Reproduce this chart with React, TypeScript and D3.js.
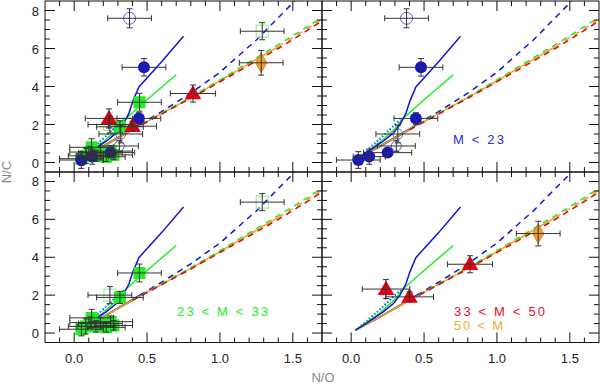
import React from "react";
import * as d3 from "d3";

// ---- data ----
// points: [N/O, N/C, errN/O, errN/C]
const massBelow23 = [
  [0.049, 0.13, 0.15, 0.44],
  [0.124, 0.31, 0.11, 0.4],
  [0.25, 0.52, 0.165, 0.22],
  [0.444, 2.32, 0.15, 0.3],
  [0.479, 5.01, 0.15, 0.46],
];
const massBelow23Open = [
  [0.38, 7.59, 0.15, 0.5],
  [0.32, 1.5, 0.15, 0.47],
  [0.31, 0.87, 0.13, 0.3],
];
const mass23to33 = [
  [0.05, 0.2, 0.15, 0.35],
  [0.08, 0.35, 0.12, 0.4],
  [0.11, 0.55, 0.14, 0.3],
  [0.12, 0.8, 0.15, 0.45],
  [0.15, 0.35, 0.13, 0.3],
  [0.18, 0.5, 0.15, 0.3],
  [0.22, 0.3, 0.13, 0.25],
  [0.25, 0.6, 0.15, 0.3],
  [0.27, 0.4, 0.13, 0.25],
  [0.314, 1.88, 0.16, 0.32],
  [0.448, 3.17, 0.15, 0.47],
];
const mass23to33Open = [
  [0.245, 2.0, 0.15, 0.45],
  [1.29, 6.91, 0.15, 0.45],
];
const mass33to50 = [
  [0.239, 2.32, 0.163, 0.5],
  [0.4, 1.91, 0.165, 0.26],
  [0.815, 3.63, 0.155, 0.45],
];
const massAbove50 = [[1.283, 5.25, 0.15, 0.65]];

// model tracks [N/O, N/C]
const blueSteep = [[0.03, 0.15], [0.1, 0.5], [0.22, 1.12], [0.29, 1.56], [0.335, 2.0], [0.376, 2.6], [0.403, 3.23], [0.444, 3.98], [0.6, 5.3], [0.75, 6.65]];
const greenSteep = [[0.03, 0.15], [0.1, 0.52], [0.2, 1.08], [0.3, 1.78], [0.36, 2.35], [0.5, 3.3], [0.7, 4.62]];
const blueDotted = [[0.03, 0.15], [0.1, 0.58], [0.2, 1.25], [0.3, 1.98], [0.34, 2.25]];
const greenDotted = [[0.03, 0.15], [0.1, 0.62], [0.2, 1.3], [0.3, 2.05], [0.33, 2.25]];
const redTrack = [[0.03, 0.15], [0.2, 0.85], [0.4, 1.72], [0.6, 2.55], [0.8, 3.38], [1.0, 4.25], [1.2, 5.12], [1.4, 6.0], [1.6, 6.95], [1.7, 7.45]];
const greenTrack = [[0.03, 0.15], [0.2, 0.87], [0.4, 1.75], [0.6, 2.6], [0.8, 3.45], [1.0, 4.35], [1.2, 5.28], [1.4, 6.2], [1.6, 7.15], [1.7, 7.65]];
const orangeTrack = [[0.03, 0.15], [0.2, 0.86], [0.4, 1.73], [0.6, 2.57], [0.8, 3.41], [1.0, 4.3], [1.2, 5.2], [1.4, 6.1], [1.6, 7.05], [1.7, 7.55]];
const blueTrack = [[0.03, 0.15], [0.2, 0.87], [0.4, 1.76], [0.45, 2.0], [0.6, 2.68], [0.8, 3.65], [1.0, 4.75], [1.25, 6.45], [1.5, 8.4], [1.52, 8.6]];

const xTickLabels = ["0.0", "0.5", "1.0", "1.5"];
const yTickLabels = ["0", "2", "4", "6", "8"];

const BLUE = "#1414d8";
const GREEN = "#22ee22";
const RED = "#e80010";
const ORANGE = "#f0a030";
const BAR = "#333";
const FONT = "'Liberation Sans', Arial, sans-serif";

type Pt = number[];

function Panel({ id, x0, x1, y0, y1, showX, showY, groups, label }: any) {
  const x = d3.scaleLinear().domain([-0.2, 1.7]).range([x0, x1]);
  const y = d3.scaleLinear().domain([-0.5, 8.5]).range([y1, y0]);
  const line = d3.line<Pt>().x((d) => x(d[0])).y((d) => y(d[1]));
  const split = (pts: Pt[], lim: number) => {
    const solid = pts.filter((p) => p[0] <= lim);
    const dashed = [solid[solid.length - 1], ...pts.filter((p) => p[0] > lim)];
    return [solid, dashed];
  };
  const [rS, rD] = split(redTrack, 0.45);
  const [gS, gD] = split(greenTrack, 0.45);
  const [bS, bD] = split(blueTrack, 0.45);
  const [oS, oD] = split(orangeTrack, 1.41);

  const xMinor = d3.range(-1, 17).map((i) => i / 10);
  const yMinor = d3.range(0, 17).map((i) => i / 2);
  const isMajorX = (v: number) => Math.abs(v * 2 - Math.round(v * 2)) < 1e-6;
  const isMajorY = (v: number) => v % 2 === 0;

  const errBars = (pts: Pt[], key: string) =>
    pts.map((d, i) => {
      const cx = x(d[0]), cy = y(d[1]);
      const xl = x(d[0] - d[2]), xr = x(d[0] + d[2]);
      const yt = y(d[1] + d[3]), yb = y(d[1] - d[3]);
      return (
        <g key={key + i} stroke={BAR} strokeWidth={1}>
          <line x1={xl} x2={xr} y1={cy} y2={cy} />
          <line x1={xl} x2={xl} y1={cy - 3} y2={cy + 3} />
          <line x1={xr} x2={xr} y1={cy - 3} y2={cy + 3} />
          <line x1={cx} x2={cx} y1={yt} y2={yb} />
          <line x1={cx - 3} x2={cx + 3} y1={yt} y2={yt} />
          <line x1={cx - 3} x2={cx + 3} y1={yb} y2={yb} />
        </g>
      );
    });

  const sym = (type: any, size: number) => d3.symbol().type(type).size(size)() as string;
  const tri = sym(d3.symbolTriangle, 120);
  const dia = sym(d3.symbolDiamond, 110);

  return (
    <g>
      <clipPath id={id}>
        <rect x={x0} y={y0} width={x1 - x0} height={y1 - y0} />
      </clipPath>
      <g clipPath={`url(#${id})`} fill="none" strokeWidth={1.5}>
        <path d={line(rS)!} stroke={RED} />
        <path d={line(gS)!} stroke={GREEN} />
        <path d={line(bS)!} stroke={BLUE} />
        <path d={line(oS)!} stroke={ORANGE} />
        <path d={line(bD)!} stroke={BLUE} strokeDasharray="6,5" />
        <path d={line(gD)!} stroke={GREEN} strokeDasharray="6,5" />
        <path d={line(oD)!} stroke={ORANGE} strokeDasharray="6,5" />
        <path d={line(rD)!} stroke={RED} strokeDasharray="6,5" />
        <path d={line(blueDotted)!} stroke={BLUE} strokeDasharray="1.5,2" />
        <path d={line(greenDotted)!} stroke="#20c8c8" strokeDasharray="1.5,2" />
        <path d={line(greenSteep)!} stroke={GREEN} />
        <path d={line(blueSteep)!} stroke={BLUE} />

        {groups.blue &&
          massBelow23Open.map((d, i) => (
            <circle key={"bo" + i} cx={x(d[0])} cy={y(d[1])} r={i === 0 ? 6 : 5} stroke="#6060c8" strokeWidth={1} />
          ))}
        {groups.green &&
          mass23to33Open.map((d, i) => (
            <rect key={"go" + i} x={x(d[0]) - 6} y={y(d[1]) - 6} width={12} height={12} stroke="#8fe88f" strokeWidth={1} />
          ))}
        {groups.green &&
          mass23to33.map((d, i) => (
            <rect key={"g" + i} x={x(d[0]) - 6} y={y(d[1]) - 6} width={12} height={12} fill={GREEN} stroke="none" />
          ))}
        {groups.blue &&
          massBelow23.map((d, i) => <circle key={"b" + i} cx={x(d[0])} cy={y(d[1])} r={6} fill={BLUE} stroke="none" />)}
        {groups.red &&
          mass33to50.map((d, i) => (
            <path key={"r" + i} d={tri} transform={`translate(${x(d[0])},${y(d[1]) + 1})`} fill={RED} stroke="none" />
          ))}
        {groups.orange &&
          massAbove50.map((d, i) => (
            <path key={"o" + i} d={dia} transform={`translate(${x(d[0])},${y(d[1])})`} fill={ORANGE} stroke="#c87818" strokeWidth={0.8} />
          ))}

        {groups.blue && errBars(massBelow23Open, "ebo")}
        {groups.green && errBars(mass23to33Open, "ego")}
        {groups.green && errBars(mass23to33, "eg")}
        {groups.blue && errBars(massBelow23, "eb")}
        {groups.red && errBars(mass33to50, "er")}
        {groups.orange && errBars(massAbove50, "eo")}
      </g>

      {/* frame and inward ticks */}
      <g stroke="#111" strokeWidth={1} fill="none">
        <rect x={x0} y={y0} width={x1 - x0} height={y1 - y0} />
        {xMinor.map((v) => {
          const len = isMajorX(v) ? 10 : 5;
          return (
            <g key={"xt" + v}>
              <line x1={x(v)} x2={x(v)} y1={y1} y2={y1 - len} />
              <line x1={x(v)} x2={x(v)} y1={y0} y2={y0 + len} />
            </g>
          );
        })}
        {yMinor.map((v) => {
          const len = isMajorY(v) ? 10 : 5;
          return (
            <g key={"yt" + v}>
              <line x1={x0} x2={x0 + len} y1={y(v)} y2={y(v)} />
              <line x1={x1} x2={x1 - len} y1={y(v)} y2={y(v)} />
            </g>
          );
        })}
      </g>

      {showX &&
        xTickLabels.map((t) => (
          <text key={"xl" + t} x={x(+t)} y={y1 + 20} textAnchor="middle" fontSize={13} fontFamily={FONT} fill="#222">
            {t}
          </text>
        ))}
      {showY &&
        yTickLabels.map((t) => (
          <text key={"yl" + t} x={x0 - 6} y={y(+t) + 5} textAnchor="end" fontSize={13} fontFamily={FONT} fill="#222">
            {t}
          </text>
        ))}
      {label &&
        label.map((l: any, i: number) => (
          <text key={"lab" + i} x={x0 + l.dx} y={y0 + l.dy} fontSize={13} fontFamily={FONT} fill={l.color} textLength={l.w} lengthAdjust="spacing">
            {l.text}
          </text>
        ))}
    </g>
  );
}

export default function App() {
  return (
    <svg width={600} height={385} style={{ position: "absolute", left: 0, top: 0, background: "#fff" }}>
      <Panel id="cTL" x0={45} x1={322} y0={1} y1={172} showY groups={{ blue: 1, green: 1, red: 1, orange: 1 }} />
      <Panel id="cTR" x0={322} x1={599} y0={1} y1={172} groups={{ blue: 1 }}
        label={[{ text: "M < 23", color: "#2a2ad8", dx: 131, dy: 143, w: 51 }]} />
      <Panel id="cBL" x0={45} x1={322} y0={172} y1={342.5} showX showY groups={{ green: 1 }}
        label={[{ text: "23 < M < 33", color: GREEN, dx: 132, dy: 143.5, w: 91 }]} />
      <Panel id="cBR" x0={322} x1={599} y0={172} y1={342.5} showX groups={{ red: 1, orange: 1 }}
        label={[
          { text: "33 < M < 50", color: "#e8102a", dx: 132, dy: 143.5, w: 91 },
          { text: "50 < M", color: "#f5a833", dx: 132, dy: 158, w: 49 },
        ]} />
      <text x={323} y={382} textAnchor="middle" fontSize={13} fontFamily={FONT} fill="#888">
        N/O
      </text>
      <text transform="translate(11,172) rotate(-90)" textAnchor="middle" fontSize={13} fontFamily={FONT} fill="#888">
        N/C
      </text>
    </svg>
  );
}
